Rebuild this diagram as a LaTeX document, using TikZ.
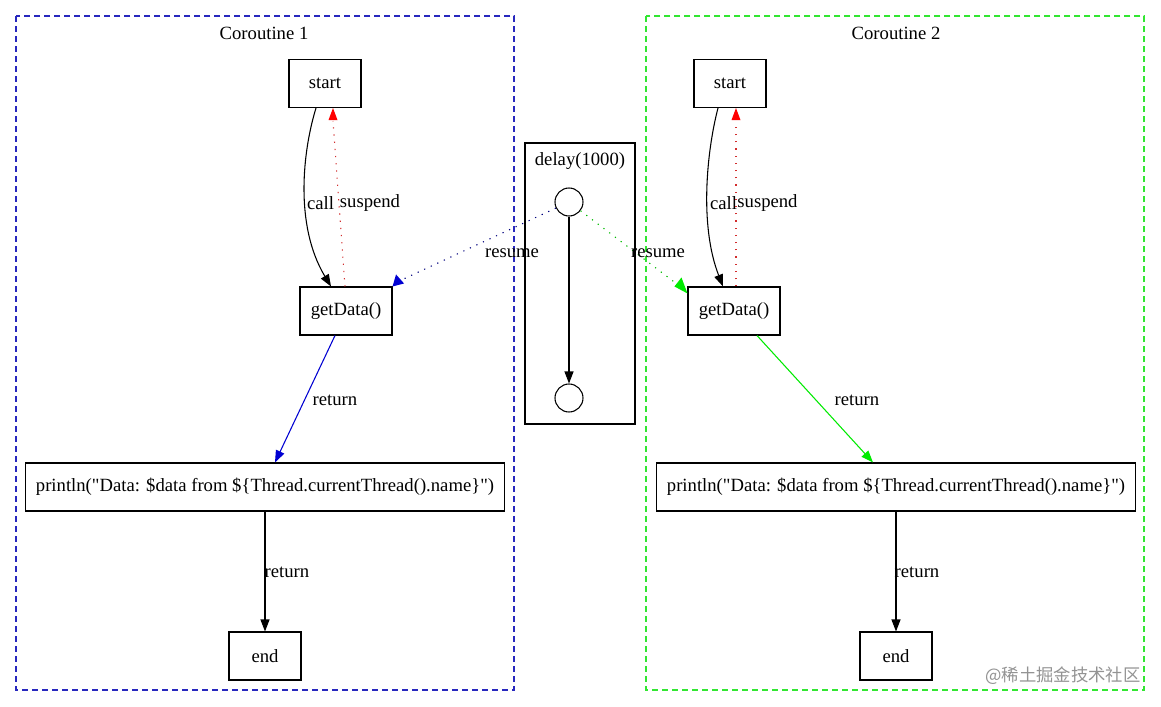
\documentclass[tikz,border=0pt]{standalone}
\usepackage{fontspec}
\setmainfont{Liberation Serif}[Ligatures=TeXOff]
\newfontfamily\cjkfont{Noto Sans CJK SC}
\usetikzlibrary{arrows.meta,calc}
\definecolor{gvgreen}{RGB}{0,235,0}
\definecolor{gvblue}{RGB}{0,0,210}
\definecolor{clblue}{RGB}{40,40,190}
\definecolor{clgreen}{RGB}{50,230,50}
\begin{document}
\begin{tikzpicture}[x=0.75pt,y=-0.75pt,
  font=\fontsize{14pt}{16pt}\selectfont,
  line width=0.8pt,
  box/.style={draw,rectangle,minimum height=36pt,inner sep=0pt},
  circ/.style={draw,circle,minimum size=21pt,inner sep=0pt},
  cluster/.style={dash pattern=on 4.5pt off 3pt},
  tip/.style={-{Triangle[length=9pt,width=6.75pt]}},
  dots/.style={dash pattern=on 0.9pt off 4.5pt},
  lbl/.style={inner sep=0pt,anchor=center}]
\useasboundingbox (0,0) rectangle (1161,707);
\fill[white] (0,0) rectangle (1161,707);
% clusters
\draw[cluster,clblue] (16,16) rectangle (514,690);
\node[lbl] (t1) at (264,33) {Coroutine 1};
\draw[cluster,clgreen] (646,16) rectangle (1144,690);
\node[lbl] (t2) at (896,33) {Coroutine 2};
\draw (525,143) rectangle (635,424);
\node[lbl] (t3) at (580,161) {delay(1000)};
% nodes left
\node[box,minimum width=54pt] (s1) at (325,83.5) {start};
\node[box,minimum width=69pt] (g1) at (346,311) {getData()};
\node[box,minimum width=359.25pt] (p1) at (265,487) {println("Data: \$data from \$\{Thread.currentThread().name\}")};
\node[box,minimum width=54pt] (e1) at (265,656) {end};
% nodes right
\node[box,minimum width=54pt] (s2) at (730,83.5) {start};
\node[box,minimum width=69pt] (g2) at (734,311) {getData()};
\node[box,minimum width=359.25pt] (p2) at (896,487) {println("Data: \$data from \$\{Thread.currentThread().name\}")};
\node[box,minimum width=54pt] (e2) at (896,656) {end};
% delay
\node[circ] (c1) at (569,202) {};
\node[circ] (c2) at (569,398) {};
\draw[tip] (c1) -- (c2);
% left edges
\draw[tip] ($(s1.south)+(-9,0)$) .. controls (303,150) and (294,225) .. ($(g1.north)+(-15,0)$);
\node[lbl] at (320.5,203) {call};
\draw[dots,red!65!gray] ($(g1.north)+(-1,0)$) -- ($(s1.south)+(8,13)$);
\fill[red] ($(s1.south)+(8,0)$) -- ($(s1.south)+(3.5,12)$) -- ($(s1.south)+(12.5,12)$) -- cycle;
\node[lbl] at (370,203) {suspend};
\draw[dots,gvblue!60!black] (c1) -- ($(g1.north east)+(10,-7)$);
\fill[gvblue] (g1.north east) -- ($(g1.north east)+(3.5,-12)$) -- ($(g1.north east)+(11.5,-3)$) -- cycle;
\node[lbl] at (512,253) {resume};
\draw[tip,gvblue] ($(g1.south)+(-11,0)$) -- ($(p1.north)+(10,0)$);
\node[lbl] at (335,400) {return};
\draw[tip] (p1) -- (e1);
\node[lbl] at (287,572) {return};
% right edges
\draw[tip] ($(s2.south)+(-12,0)$) .. controls (707,150) and (699,225) .. ($(g2.north)+(-11,0)$);
\node[lbl] at (723.5,203) {call};
\draw[dots,red!65!gray] ($(g2.north)+(2,0)$) -- ($(s2.south)+(6,13)$);
\fill[red] ($(s2.south)+(6,0)$) -- ($(s2.south)+(1.5,12)$) -- ($(s2.south)+(10.5,12)$) -- cycle;
\node[lbl] at (767.5,203) {suspend};
\draw[dots,gvgreen!80!black] (c1) -- ($(g2.north west)+(-10,-2)$);
\fill[gvgreen] ($(g2.north west)+(0,7)$) -- ($(g2.north west)+(-13,0)$) -- ($(g2.north west)+(-6,-9)$) -- cycle;
\node[lbl] at (658,253) {resume};
\draw[tip,gvgreen] ($(g2.south)+(23,0)$) -- ($(p2.north)+(-23,0)$);
\node[lbl] at (857,400) {return};
\draw[tip] (p2) -- (e2);
\node[lbl] at (917,572) {return};
% watermark
\node[lbl,anchor=east,text=gray!85,font=\cjkfont\fontsize{13pt}{15pt}\selectfont] (wm) at (1141,676) {@稀土掘金技术社区};
\end{tikzpicture}
\end{document}
